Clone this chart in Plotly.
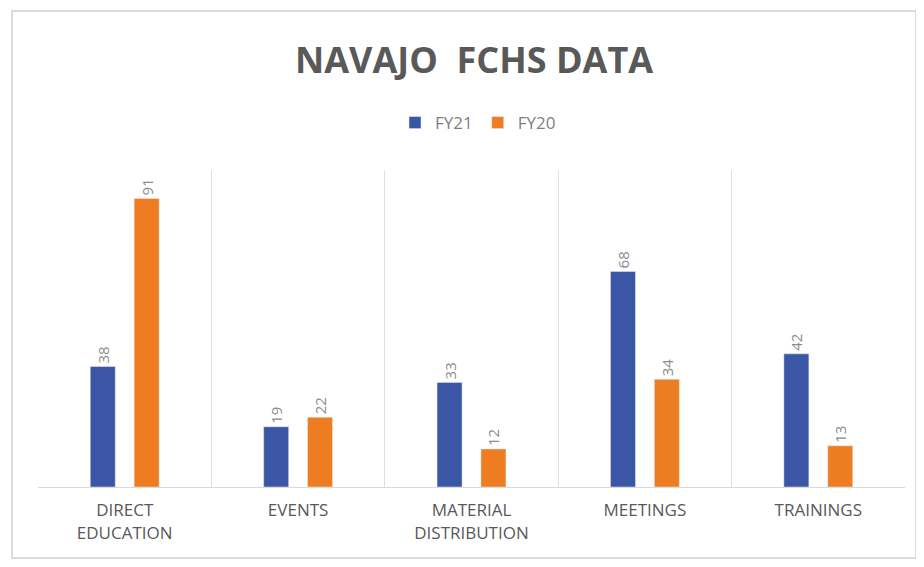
import plotly.graph_objects as go

categories = ["DIRECT<br>EDUCATION", "EVENTS", "MATERIAL<br>DISTRIBUTION", "MEETINGS", "TRAININGS"]
fy21 = [38, 19, 33, 68, 42]
fy20 = [91, 22, 12, 34, 13]

BLUE = "#3A56A5"
ORANGE = "#EE7D22"
GRAY = "#8c8c8c"

# page body has an 8px margin; work in figure coords = screen coords - 8
OFF = 8
W, H = 916, 559
L, R, T, B = 38 - OFF, 19, 170 - OFF, 80
pw, ph = W - L - R, H - T - B

def px(x):
    return (x - OFF - L) / pw

def py(y):
    return (H - B - (y - OFF)) / ph

fig = go.Figure()
for name, vals, col in [("FY21", fy21, BLUE), ("FY20", fy20, ORANGE)]:
    fig.add_trace(go.Bar(name=name, x=categories, y=vals, marker_color=col,
                         text=vals, textposition="outside", textangle=-90,
                         textfont=dict(family="Open Sans", color=GRAY, size=15),
                         cliponaxis=False))

fig.update_layout(
    width=W, height=H,
    margin=dict(l=L, r=R, t=T, b=B),
    paper_bgcolor="white", plot_bgcolor="white",
    barmode="group", bargap=0.494, bargroupgap=0.43,
    title=dict(text="<b>NAVAJO  FCHS DATA</b>", x=px(474), xanchor="center",
               xref="paper", y=1 - (60 - OFF) / H, yanchor="middle",
               font=dict(family="Open Sans", size=36, color="#595959")),
    legend=dict(orientation="h", x=px(478), xanchor="center", y=py(123), yanchor="middle",
                font=dict(family="Open Sans", size=17, color="#7f7f7f"),
                itemwidth=30, traceorder="normal"),
    font=dict(family="Open Sans", color="#595959"),
    xaxis=dict(tickson="boundaries", showgrid=True, gridcolor="#e0e0e0", gridwidth=1,
               ticks="", showline=True, linecolor="#d9d9d9", ticklabelstandoff=8,
               tickfont=dict(family="Open Sans", size=17, color="#595959")),
    yaxis=dict(range=[0, 100], visible=False, showgrid=False),
    shapes=[dict(type="rect", xref="paper", yref="paper",
                 x0=px(12), x1=px(916), y0=py(558), y1=py(11),
                 line=dict(color="#d0d0d0", width=1.5))],
)

fig.write_html("out.html")
